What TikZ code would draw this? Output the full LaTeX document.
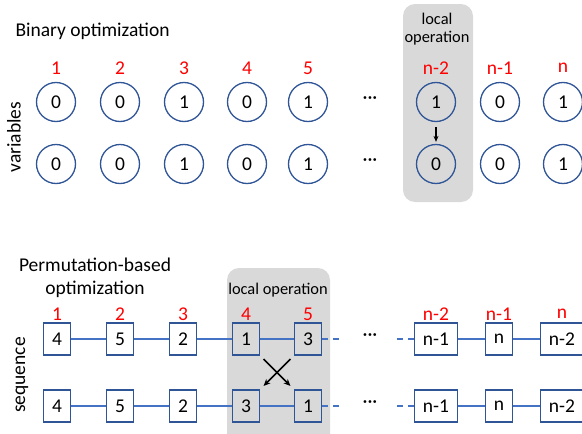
\documentclass[tikz,border=0pt]{standalone}
\usepackage{fontspec}
\setmainfont{Carlito}
\usepackage{tikz}
\usetikzlibrary{calc,arrows.meta}
\definecolor{navy}{HTML}{2F5597}
\definecolor{wire}{HTML}{4472C4}
\definecolor{shade}{HTML}{D9D9D9}
\definecolor{lblred}{HTML}{FF0000}
\newcommand{\mainsz}{\fontsize{19.5}{23.5}\selectfont}
\newcommand{\smallsz}{\fontsize{16.4}{20}\selectfont}
\tikzset{
  var/.style={circle, draw=navy, line width=1.3pt, minimum size=39pt, inner sep=0pt, font=\mainsz},
  elem/.style={rectangle, draw=navy, line width=1.3pt, minimum height=32pt, inner sep=0pt, font=\mainsz},
  idx/.style={text=lblred, font=\mainsz},
  lab/.style={text=black, font=\mainsz},
  labs/.style={text=black, font=\smallsz, align=center},
  link/.style={draw=wire, line width=1.3pt},
  gap/.style={link, dash pattern=on 6pt off 5pt},
  opbox/.style={fill=shade, rounded corners=12pt},
  mutate/.style={draw=black, line width=1.3pt, -{Stealth[length=6pt,width=5pt]}},
  xchg/.style={draw=black, line width=1.5pt, -{Stealth[length=7pt,width=6pt]}},
}
\begin{document}
\begin{tikzpicture}[x=1pt,y=-1pt]
  \useasboundingbox (0,0) rectangle (582,434);
  % binary optimization
  \fill[opbox] (403,4) rectangle (473,202);
  \node[lab,anchor=base west] (bt) at (12,36) {Binary optimization};
  \node[labs] (bop) at (437,29) {local\\[-2pt]operation};
  \node[lab,rotate=90] (bv) at (14,137) {variables};
  \foreach \i/\x/\top/\bot/\lab in {1/56/0/0/1,2/120/0/0/2,3/184/1/1/3,4/247/0/0/4,5/308/1/1/5,6/436/1/0/n-2,7/500/0/0/n-1,8/563/1/1/n}{
    \node[idx] (l\i) at (\x,68) {\lab};
    \node[var] (a\i) at (\x,102) {\top};
    \node[var] (b\i) at (\x,164) {\bot};
  }
  \node[lab] (ad) at (370,100) {···};
  \node[lab] (bd) at (370,162) {···};
  \draw[mutate,shorten <=5pt,shorten >=2pt] (a6) -- (b6);
  % permutation-based optimization
  \fill[opbox] (227,268) rectangle (330,450);
  \node[lab,align=center] (pt) at (95,278) {Permutation-based\\optimization};
  \node[labs] (pop) at (278,290) {local operation};
  \node[lab,rotate=90] (pv) at (22,375) {sequence};
  \foreach \i/\x/\top/\bot/\lab/\w in {1/57/4/4/1/27pt,2/120/5/5/2/27pt,3/183/2/2/3/27pt,4/246/1/3/4/27pt,5/308/3/1/5/27pt,6/436/n-1/n-1/n-2/43pt,7/499/n/n/n-1/27pt,8/562/n-2/n-2/n/43pt}{
    \node[idx] (m\i) at (\x,314) {\lab};
    \node[elem,minimum width=\w] (p\i) at (\x,339) {\top};
    \node[elem,minimum width=\w] (q\i) at (\x,406) {\bot};
  }
  \foreach \a/\b in {1/2,2/3,3/4,4/5,6/7,7/8}{
    \draw[link] (p\a) -- (p\b);
    \draw[link] (q\a) -- (q\b);
  }
  \coordinate (pe) at (343,339);
  \coordinate (ps) at (397,339);
  \coordinate (qe) at (343,406);
  \coordinate (qs) at (397,406);
  \draw[gap] (p5) -- (pe);
  \draw[gap] (ps) -- (p6);
  \draw[gap] (q5) -- (qe);
  \draw[gap] (qs) -- (q6);
  \node[lab] (pd) at (370,337) {···};
  \node[lab] (qd) at (370,404) {···};
  \draw[xchg] ($(p4.south east)!0.1!(q5.north west)$) -- ($(p4.south east)!0.9!(q5.north west)$);
  \draw[xchg] ($(p5.south west)!0.1!(q4.north east)$) -- ($(p5.south west)!0.9!(q4.north east)$);
\end{tikzpicture}
\end{document}
